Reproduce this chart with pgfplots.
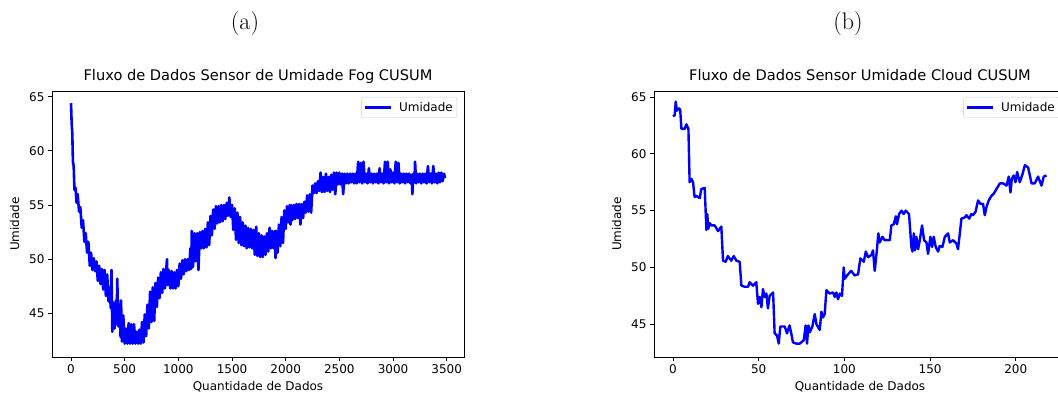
\documentclass[border=0pt]{standalone}
\usepackage{pgfplots}
\pgfplotsset{compat=1.18}
\usepackage{fontspec}
\newfontfamily\dejavu{DejaVu Sans}
\newcommand\fs{\dejavu\fontsize{12bp}{14bp}\selectfont}
\newcommand\ft{\dejavu\fontsize{14.6bp}{17bp}\selectfont}
\definecolor{pblue}{RGB}{0,0,255}
\pgfplotsset{
  myaxis/.style={
    scale only axis, width=412bp, height=266bp,
    anchor=south west,
    axis line style={line width=0.9bp, black},
    tick align=outside, xtick pos=left, ytick pos=left,
    major tick length=4bp,
    tick style={line width=0.9bp, black},
    tick label style={font=\fs},
    /pgf/number format/1000 sep={},
    /pgf/number format/assume math mode=true,
    every axis title/.style={font=\ft, at={(axis description cs:0.5,1)}, anchor=base, yshift=10bp},
    every axis x label/.style={font=\fs, at={(axis description cs:0.5,0)}, anchor=base, yshift=-33.5bp},
    every axis y label/.style={font=\fs, at={(axis description cs:-0.080,0.5)}, rotate=90, anchor=base},
    xlabel={Quantidade de Dados}, ylabel={Umidade},
    legend style={at={(axis description cs:1,1)}, anchor=north east, xshift=-7bp, yshift=-6bp,
      draw=black!20, rounded corners=2bp, font=\fs, inner xsep=2bp, inner ysep=3bp, fill=white},
    legend image code/.code={\draw[#1] (0bp,0bp) -- (26bp,0bp); \path (31bp,0bp);},
    legend cell align=left,
  }
}
\begin{document}
\begin{tikzpicture}
\begin{axis}[myaxis, at={(52bp,37bp)},
  xmin=-177, xmax=3661, ymin=40.97, ymax=65.53,
  xtick={0,500,1000,1500,2000,2500,3000,3500}, ytick={45,50,55,60,65},
  title={Fluxo de Dados Sensor de Umidade Fog CUSUM}]
\addplot[pblue, line width=2.6bp, line join=round] coordinates {
(0,64.4)(6,62.6)(12,61.6)(18,59.0)(25,58.6)(32,56.4)(42,56.6)(52,55.2)(62,56.0)(75,54.4)(87,54.8)(100,52.9)(112,53.6)(125,51.6)(137,52.4)(150,50.6)(162,51.6)(175,49.4)(187,50.6)(200,49.0)(212,50.1)(225,48.9)(237,49.8)(250,48.0)(262,49.4)(275,47.7)(287,49.1)(300,47.2)(312,49.0)(325,46.6)(337,48.6)(350,46.1)(362,47.4)(370,45.5)(377,49.0)(385,43.3)(395,46.0)(405,43.6)(418,46.2)(425,44.0)(431,48.2)(440,43.8)(452,45.8)(462,42.8)(466,46.2)(475,42.4)(487,44.8)(500,42.2)(512,43.6)(525,42.2)(537,44.1)(550,42.2)(562,44.0)(575,42.2)(587,44.0)(600,42.2)(612,43.3)(625,42.2)(637,43.5)(650,42.2)(662,44.2)(675,42.3)(687,44.9)(700,42.9)(712,45.8)(725,43.6)(737,47.0)(750,44.2)(762,47.4)(775,44.3)(787,47.8)(800,45.6)(812,48.3)(825,46.4)(837,48.8)(850,46.9)(862,49.1)(875,47.3)(887,49.0)(894,50.0)(900,47.6)(912,49.0)(925,47.3)(937,48.9)(950,47.3)(962,48.8)(975,47.3)(987,49.0)(1000,47.5)(1012,49.6)(1025,48.2)(1037,49.9)(1050,48.6)(1062,50.0)(1075,48.9)(1087,50.0)(1100,49.0)(1112,51.0)(1120,49.1)(1125,52.6)(1137,49.3)(1150,52.4)(1162,49.8)(1175,52.4)(1187,49.0)(1200,52.5)(1212,51.0)(1225,52.6)(1237,51.0)(1250,52.8)(1262,51.1)(1275,53.4)(1287,51.3)(1300,54.0)(1312,52.2)(1325,54.6)(1337,52.8)(1350,54.9)(1362,53.3)(1375,54.9)(1387,53.4)(1400,55.0)(1412,53.5)(1425,55.0)(1437,53.7)(1450,55.2)(1462,54.0)(1475,55.7)(1487,53.9)(1500,55.0)(1512,52.7)(1525,54.7)(1537,51.8)(1550,54.3)(1562,51.5)(1575,53.9)(1587,51.3)(1600,53.4)(1612,51.2)(1625,53.1)(1637,51.0)(1650,52.9)(1662,51.1)(1675,52.8)(1687,51.0)(1700,52.7)(1712,50.4)(1725,53.0)(1737,50.3)(1750,52.4)(1762,50.2)(1775,52.2)(1787,50.2)(1800,52.1)(1812,50.4)(1825,52.4)(1837,50.7)(1850,52.9)(1862,51.0)(1875,52.6)(1887,51.0)(1900,52.6)(1905,50.1)(1912,52.6)(1925,50.6)(1937,53.2)(1950,51.2)(1962,53.9)(1975,51.5)(1987,54.5)(2000,52.8)(2012,54.9)(2025,53.4)(2037,55.0)(2045,53.2)(2050,55.0)(2062,53.6)(2075,55.0)(2087,53.7)(2100,55.1)(2112,53.8)(2125,55.1)(2137,53.2)(2150,55.1)(2162,53.8)(2175,55.3)(2187,54.3)(2200,55.9)(2212,54.4)(2225,56.0)(2237,54.3)(2250,56.8)(2262,56.1)(2275,57.0)(2287,56.1)(2300,57.2)(2312,56.3)(2325,58.0)(2337,56.2)(2350,57.6)(2362,56.2)(2375,57.9)(2387,56.3)(2400,57.6)(2412,56.2)(2425,57.8)(2437,56.4)(2450,58.0)(2462,56.0)(2475,58.0)(2487,56.9)(2500,58.0)(2512,56.9)(2525,57.9)(2535,56.0)(2550,57.9)(2562,57.0)(2575,57.9)(2587,57.0)(2600,57.9)(2612,57.1)(2625,57.9)(2637,57.0)(2650,57.9)(2662,57.0)(2675,59.0)(2687,57.1)(2700,58.9)(2712,57.0)(2725,59.0)(2737,57.1)(2750,57.9)(2762,57.0)(2775,58.4)(2787,57.1)(2800,57.9)(2812,57.0)(2825,57.9)(2837,57.1)(2850,57.9)(2862,57.0)(2875,58.4)(2887,57.1)(2900,57.9)(2912,57.0)(2925,59.0)(2937,57.1)(2950,59.0)(2962,57.0)(2975,58.3)(2987,57.1)(3000,58.0)(3012,57.0)(3025,59.0)(3037,57.1)(3050,58.9)(3062,57.0)(3075,57.9)(3087,57.1)(3100,57.9)(3112,57.0)(3125,57.9)(3137,57.1)(3150,57.9)(3162,57.0)(3175,57.8)(3180,56.0)(3190,57.9)(3200,57.1)(3205,59.0)(3215,57.0)(3225,57.9)(3237,57.1)(3250,57.9)(3262,57.0)(3275,57.9)(3287,57.1)(3300,57.9)(3312,57.0)(3325,58.6)(3337,57.1)(3350,57.9)(3362,57.0)(3375,58.6)(3387,57.1)(3400,57.9)(3412,57.0)(3425,58.0)(3437,57.1)(3450,58.0)(3462,57.2)(3475,57.9)(3485,57.5)
};
\addlegendentry{Umidade}
\end{axis}
\begin{axis}[myaxis, at={(654bp,37bp)},
  xmin=-11.08, xmax=229.3, ymin=42.12, ymax=65.53,
  xtick={0,50,100,150,200}, ytick={45,50,55,60,65},
  title={Fluxo de Dados Sensor Umidade Cloud CUSUM}]
\addplot[pblue, line width=2.4bp, line join=round] coordinates {
(0,63.3)(1,63.4)(1.6,64.6)(2.3,63.8)(3.5,64.0)(4.2,63.9)(4.9,62.2)(6.8,62.2)(7.8,62.6)(9,62.2)(9.7,57.5)(10.7,57.8)(11.7,57.5)(12.6,56.2)(13.6,56.3)(15.6,56.1)(16.5,56.9)(18.5,57.0)(19.5,53.3)(20,54.7)(20.6,53.4)(21.4,53.9)(22.4,53.7)(24.3,53.7)(26.3,53.2)(28.2,53.6)(29.2,50.6)(30.7,50.5)(32,51.0)(34,50.6)(35.4,51.0)(37,50.6)(38.9,50.5)(39.9,48.4)(41.8,48.3)(43.8,48.3)(44.7,48.7)(46.7,48.4)(48.6,48.7)(49.6,46.8)(50.6,47.4)(51.6,46.5)(52.5,48.1)(53.5,47.4)(54.5,47.7)(55.4,46.4)(56.4,47.5)(58.4,47.8)(59.3,44.2)(60.7,44.0)(61.7,43.3)(62.6,44.8)(65.2,44.8)(66.5,44.2)(68,44.9)(69,44.2)(70,43.4)(72,43.3)(74,43.3)(76.3,43.6)(77.4,44.9)(78.2,43.3)(79,44.9)(79.8,44.3)(81.3,44.8)(82.7,45.9)(83.7,45.0)(85.6,44.5)(86.6,46.1)(87.5,45.6)(88.5,45.9)(89.5,48.0)(91.4,47.7)(93.4,47.8)(94.4,47.4)(95.3,47.8)(96.3,47.2)(97.3,47.7)(98.6,47.5)(99.6,50.0)(100.2,49.0)(102.1,49.4)(104,49.7)(106,49.3)(108,49.4)(109.3,50.8)(111.3,50.5)(112.5,51.4)(113.8,50.9)(115.8,51.1)(116.7,51.5)(117.7,49.7)(119,51.6)(119.8,53.0)(120.6,52.2)(122.2,52.7)(123.5,52.4)(126.5,52.4)(127.4,53.7)(128.8,53.8)(130,54.5)(130.7,53.8)(131.9,54.7)(133.3,55.0)(134.6,54.7)(135.8,55.0)(137.7,54.7)(139.1,51.8)(139.7,51.4)(140.5,53.0)(141.2,51.5)(142,52.7)(143,51.6)(144,52.4)(145.3,53.7)(146.5,52.4)(147.9,52.2)(148.8,51.2)(150.2,52.7)(151.2,51.8)(152.1,52.7)(153.3,51.8)(154.7,51.4)(155.6,51.9)(157.2,51.8)(158.6,52.7)(160.5,53.0)(161.5,52.2)(163.4,52.4)(165.4,52.1)(166.3,51.6)(168.3,54.3)(170.2,54.4)(171.2,54.6)(172.8,54.3)(174.1,54.7)(175.1,54.6)(176.5,54.9)(178,55.9)(179.4,55.6)(180.9,55.6)(181.9,54.6)(182.9,55.3)(184.2,55.9)(185.8,56.3)(187.2,56.5)(188.7,56.9)(190.7,57.4)(192.6,57.4)(194.6,57.2)(195.9,58.0)(196.9,56.6)(197.7,57.8)(198.8,58.1)(199.8,57.5)(200.8,58.4)(202.3,57.5)(203.7,58.1)(205.3,59.0)(207.2,58.8)(209.2,57.4)(211.1,57.4)(213,58.0)(215,57.2)(216.3,58.0)(217.9,58.1)
};
\addlegendentry{Umidade}
\end{axis}
\node[anchor=base, font=\fontsize{24bp}{28bp}\selectfont] at (245bp,364bp) {(a)};
\node[anchor=base, font=\fontsize{24bp}{28bp}\selectfont] at (848bp,364bp) {(b)};
\pgfresetboundingbox
\useasboundingbox (0bp,0bp) rectangle (1058bp,394bp);
\end{tikzpicture}
\end{document}
